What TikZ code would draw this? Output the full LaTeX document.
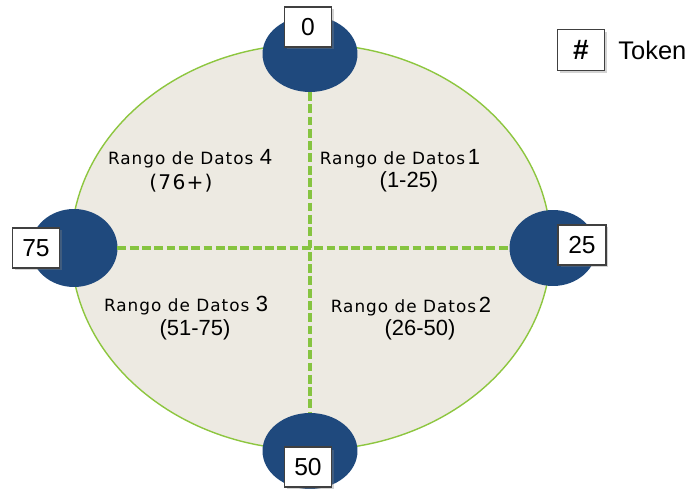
\documentclass[tikz,border=0pt]{standalone}
\usepackage{fontspec}
\setmainfont{Liberation Sans}
\newfontfamily\rangefont[LetterSpace=6]{DejaVu Sans}
\usetikzlibrary{positioning,shapes.geometric,shadows}
\definecolor{tokenblue}{HTML}{1F497D}
\definecolor{ringgreen}{HTML}{8DC63F}
\definecolor{ringfill}{HTML}{EDEAE2}
\definecolor{dashgreen}{HTML}{86C440}
\newcommand{\dnum}[1]{{\normalfont\fontsize{12.5}{14}\selectfont #1}}

\begin{document}
\begin{tikzpicture}[
    x=0.02cm, y=-0.02cm,
    ring/.style={ellipse, draw=ringgreen, line width=0.8pt, fill=ringfill,
        minimum width=9.6cm, minimum height=8.12cm, inner sep=0pt},
    token/.style={ellipse, fill=tokenblue, minimum width=1.9cm,
        minimum height=1.52cm, inner sep=0pt, outer sep=0pt},
    box/.style={draw=black!75, line width=0.6pt, fill=white, minimum width=0.94cm,
        minimum height=0.8cm, inner sep=0pt, font=\fontsize{14}{16}\selectfont,
        drop shadow={shadow xshift=0.05cm, shadow yshift=-0.05cm, opacity=0.35}},
    split/.style={dashgreen, line width=1.9pt, dash pattern=on 5pt off 2pt},
    rangetxt/.style={font=\rangefont\fontsize{9.6}{11}\selectfont, inner sep=0pt},
    rnum/.style={font=\fontsize{12.5}{14}\selectfont, inner sep=0pt}
]
    \useasboundingbox (0,0) rectangle (694,489);
    \node[ring] (ring) at (311,247) {};
    \node[token] (t0) at (310,54) {};
    \node[token, minimum width=1.74cm, minimum height=1.56cm] (t75) at (74,248) {};
    \node[token, minimum width=1.74cm] (t25) at (553,248) {};
    \node[token] (t50) at (310,451) {};
    \draw[split] (t0) -- (t50);
    \draw[split] (t75) -- (t25);
    \node[box] (b0) at (308,27) {0};
    \node[box] (b75) at (36,248) {75};
    \node[box, minimum width=0.96cm] (b25) at (582,245) {25};
    \node[box] (b50) at (308,467) {50};
    \node[box, minimum height=0.82cm, font=\fontsize{16}{18}\selectfont\bfseries] (key) at (581,50) {\#};
    \node[right=0.26cm of key, inner sep=0pt, font=\fontsize{14.5}{16}\selectfont] (keytext) {Token};
    % ranges
    \node[rangetxt] (r4) at (190,159) {Rango de Datos \dnum{4}};
    \node[rangetxt, font=\rangefont\fontsize{11.5}{13}\selectfont] (r4b) at (181,183) {(76+)};
    \node[rangetxt] (r1) at (400,159) {Rango de Datos\,\dnum{1}};
    \node[rnum] (r1b) at (409,182) {(1-25)};
    \node[rangetxt] (r3) at (186,306) {Rango de Datos \dnum{3}};
    \node[rnum] (r3b) at (195,330) {(51-75)};
    \node[rangetxt] (r2) at (411,307) {Rango de Datos\,\dnum{2}};
    \node[rnum] (r2b) at (420,330) {(26-50)};
\end{tikzpicture}
\end{document}
